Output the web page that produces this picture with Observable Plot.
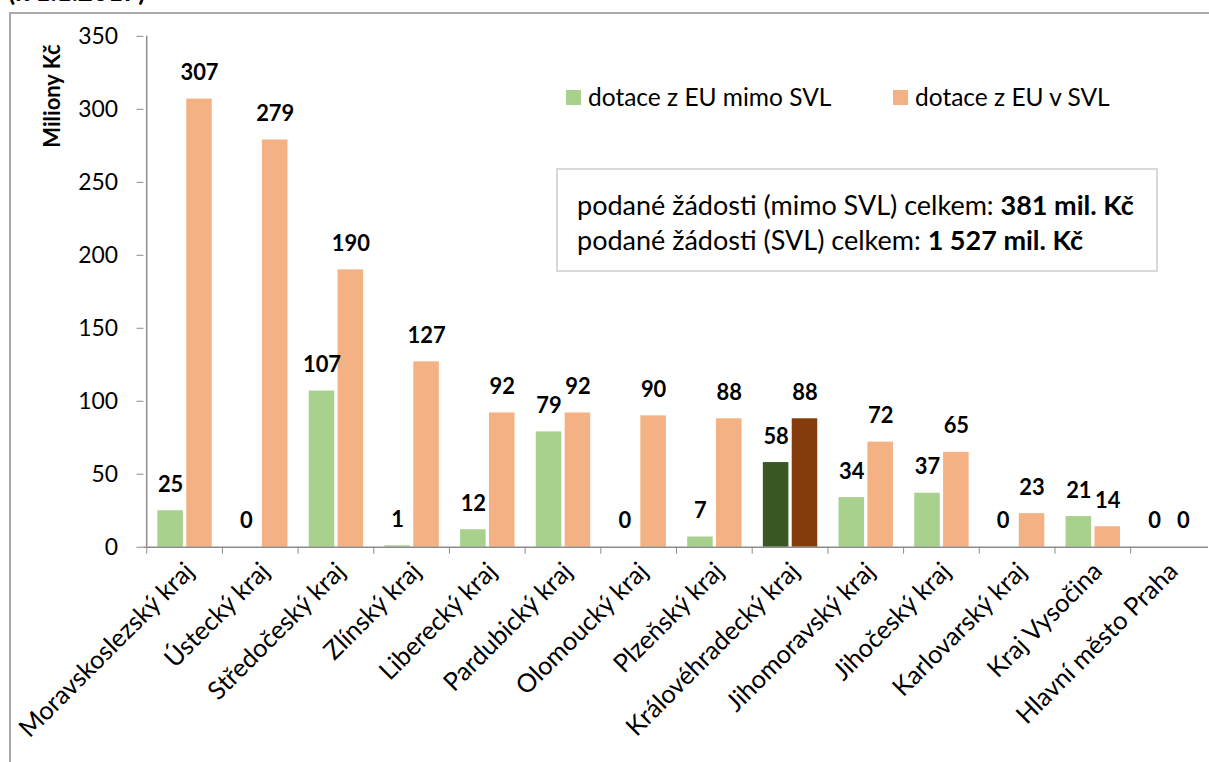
<!DOCTYPE html>
<html><head><meta charset="utf-8">
<script src="https://cdn.jsdelivr.net/npm/d3@7"></script>
<script src="https://cdn.jsdelivr.net/npm/@observablehq/plot@0.6"></script>
<style>
html,body{margin:0;padding:0;background:#fff;}
body{width:1209px;height:762px;position:relative;overflow:hidden;font-family:Lato,"Noto Sans",sans-serif;color:#000;}
#title{position:absolute;left:8px;top:-24px;font-weight:bold;font-size:26px;line-height:30px;white-space:nowrap;}
#frame{position:absolute;left:9px;top:12px;width:1300px;height:800px;border-left:2px solid #aaaaaa;border-top:2px solid #aaaaaa;}
#chart{position:absolute;left:0;top:0;}
#ytitle{position:absolute;left:52px;top:96px;transform:translate(-50%,-50%) rotate(-90deg);font-weight:bold;font-size:22px;white-space:nowrap;line-height:26px;}
.leg{position:absolute;top:84px;font-size:24.5px;line-height:26px;white-space:nowrap;display:flex;align-items:center;}
.leg span.sw{display:inline-block;width:15px;height:15px;margin-right:7px;}
#box{position:absolute;left:556px;top:168px;width:598px;height:100px;border:2px solid #d9d9d9;box-sizing:content-box;font-size:27px;line-height:34px;padding:0;}
#box div{position:absolute;left:19px;white-space:nowrap;}
</style>
</head><body>
<div id="title">(k 1.1.2017)</div>
<div id="frame"></div>
<div id="chart"></div>
<div id="ytitle">Miliony Kč</div>
<div class="leg" id="leg1" style="left:566px"><span class="sw" style="background:#A9D18E"></span>dotace z EU mimo SVL</div>
<div class="leg" id="leg2" style="left:893px"><span class="sw" style="background:#F4B183"></span>dotace z EU v SVL</div>
<div id="box">
  <div style="top:18px">podané žádosti (mimo SVL) celkem: <b>381 mil. Kč</b></div>
  <div style="top:53px">podané žádosti (SVL) celkem: <b>1 527 mil. Kč</b></div>
</div>
<script>
// ---- data ----
const regions = ["Moravskoslezský kraj","Ústecký kraj","Středočeský kraj","Zlínský kraj","Liberecký kraj","Pardubický kraj","Olomoucký kraj","Plzeňský kraj","Královéhradecký kraj","Jihomoravský kraj","Jihočeský kraj","Karlovarský kraj","Kraj Vysočina","Hlavní město Praha"];
const mimoSVL = [25,0,107,1,12,79,0,7,58,34,37,0,21,0];
const vSVL = [307,279,190,127,92,92,90,88,88,72,65,23,14,0];
const yTicks = [0,50,100,150,200,250,300,350];
const highlighted = "Královéhradecký kraj";

// ---- layout & style ----
const W = 1214, H = 762;
const ml = 144, mr = 1, mt = 36, mb = 213;
const bw = (W - ml - mr) / regions.length;
const axisColor = "#8c8c8c";
const green = "#A9D18E", greenDark = "#385723";
const orange = "#F4B183", orangeDark = "#843C0C";

const rows = regions.map((r, i) => ({region: r, mimo: mimoSVL[i], v: vSVL[i]}));

// inset geometry within each band (pixels)
const gL = 11, gW = 26, oL = 40, oW = 26;

const chart = Plot.plot({
  width: W, height: H,
  marginLeft: ml, marginRight: mr, marginTop: mt, marginBottom: mb,
  style: {fontFamily: "Lato, 'Noto Sans', sans-serif", fontSize: "23px", color: "#000", overflow: "visible", background: "transparent"},
  x: {domain: regions, padding: 0, axis: null},
  y: {domain: [0, 350], axis: null},
  marks: [
    Plot.barY(rows, {x: "region", y: "mimo", insetLeft: gL, insetRight: bw - gL - gW,
      fill: d => d.region === highlighted ? greenDark : green}),
    Plot.barY(rows, {x: "region", y: "v", insetLeft: oL, insetRight: bw - oL - oW,
      fill: d => d.region === highlighted ? orangeDark : orange}),
    Plot.text(rows, {x: "region", y: "mimo", text: d => String(d.mimo), dx: gL + gW/2 - bw/2, dy: -26,
      fontWeight: "bold", fontSize: 22, fill: "#000"}),
    Plot.text(rows, {x: "region", y: "v", text: d => String(d.v), dx: oL + oW/2 - bw/2, dy: -26,
      fontWeight: "bold", fontSize: 22, fill: "#000"}),
    Plot.ruleY([0], {stroke: axisColor, strokeWidth: 1.5}),
    Plot.ruleX([regions[0]], {dx: -bw/2, stroke: axisColor, strokeWidth: 1.5}),
    Plot.axisY({ticks: yTicks, tickSize: 7, tickPadding: 19, stroke: axisColor, fill: "#000", fontSize: 23, label: null}),
    Plot.axisX({tickSize: 7, dx: -bw/2, tickFormat: () => "", stroke: axisColor, label: null}),
    Plot.axisX({tickSize: 0, tickRotate: -45, tickPadding: 20, dx: 5, fontSize: 25.5, fill: "#000", label: null})
  ]
});
document.getElementById("chart").appendChild(chart);
</script>
</body></html>
